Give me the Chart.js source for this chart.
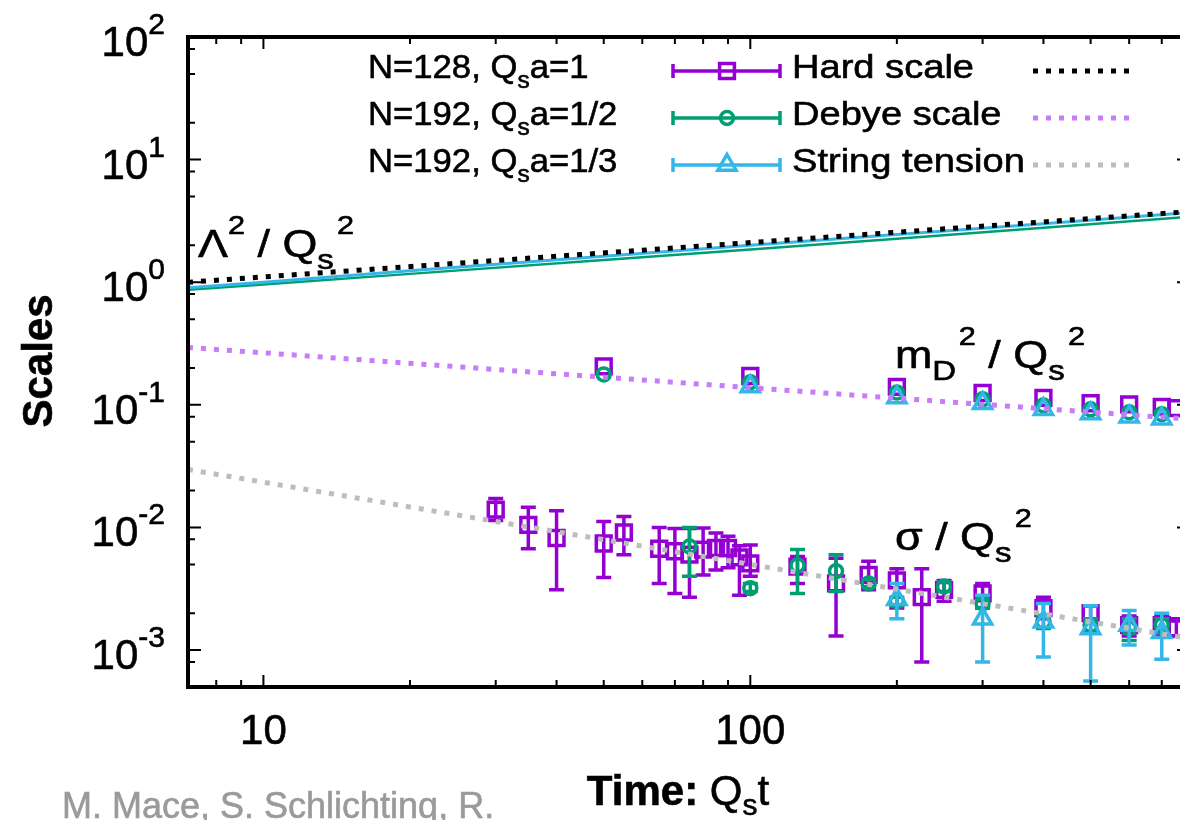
<!DOCTYPE html>
<html>
<head>
<meta charset="utf-8">
<title>Scales vs time</title>
<script src="https://cdn.jsdelivr.net/npm/chart.js@4.4.1/dist/chart.umd.min.js"></script>
<style>
  html, body { margin: 0; padding: 0; background: #fff; overflow: hidden; }
  #wrap { position: relative; width: 1180px; height: 820px; overflow: hidden; }
  canvas { position: absolute; left: 0; top: 0; }
</style>
</head>
<body>
<div id="wrap"><canvas id="scalesChart" width="1240" height="820"></canvas></div>
<script>
const FONT = '"Liberation Sans", Arial, Helvetica, sans-serif';
const PURPLE = '#9400d3', GREEN = '#009e73', CYAN = '#35b6e9';
const BLACK = '#000000', LAVENDER = '#c77cf8', GREY = '#bdbdbd';

// axis ticks
const xMajor = [10, 100];
const xTickLabels = ['10', '100'];
const xMinor = [8, 9, 20, 30, 40, 50, 60, 70, 80, 90, 200, 300, 400, 500, 600, 700];
const yMajor = [1e2, 1e1, 1e0, 1e-1, 1e-2, 1e-3];
const yExp = ['2', '1', '0', '-1', '-2', '-3'];
const yMinor = [80, 50, 20, 8, 5, 2, 0.8, 0.5, 0.2, 0.08, 0.05, 0.02, 0.008, 0.005, 0.002, 0.0008];

// legend names
const seriesNames = [['N=128, Q', 's', 'a=1'], ['N=192, Q', 's', 'a=1/2'], ['N=192, Q', 's', 'a=1/3']];
const modelNames = ['Hard scale', 'Debye scale', 'String tension'];

// fits (power laws, straight on log-log)
const fitT = [7, 800];
const hardFit = [1.0, 3.77];
const debyeFit = [0.294, 0.0764];
const stringFit = [0.0297, 0.00124];

// hard scale Lambda^2/Qs^2 (lines)
const hardT = [7, 10, 20, 50, 100, 200, 400, 800];
const hard192a = [0.87, 0.96, 1.17, 1.52, 1.85, 2.26, 2.78, 3.42];
const hard192b = [0.90, 1.00, 1.24, 1.63, 2.00, 2.45, 3.00, 3.70];

// Debye mass m_D^2/Qs^2
const debyeT128 = [50, 100, 200, 300, 400, 500, 600, 700, 750];
const debye128 = [0.206, 0.172, 0.140, 0.125, 0.114, 0.103, 0.101, 0.096, 0.094];
const debyeT192a = [50, 100, 200, 300, 400, 500, 600, 700];
const debye192a = [0.177, 0.153, 0.126, 0.111, 0.099, 0.092, 0.087, 0.084];
const debyeT192b = [100, 200, 300, 400, 500, 600, 700];
const debye192b = [0.141, 0.115, 0.103, 0.092, 0.085, 0.080, 0.077];

// string tension sigma/Qs^2 with error bars
const sigT128 = [30, 35, 40, 50, 55, 65, 70, 75, 80, 85, 90, 95, 100, 125, 150, 175, 200, 225, 250, 300, 400, 500, 600, 700, 750];
const sig128 = [0.0140, 0.0105, 0.0082, 0.0074, 0.0091, 0.0067, 0.0064, 0.0060, 0.0066, 0.0068, 0.0068, 0.0057, 0.0051, 0.0048, 0.0035, 0.0041, 0.0037, 0.0027, 0.0031, 0.0029, 0.0022, 0.0020, 0.0016, 0.0016, 0.0015];
const sig128Lo = [0.0114, 0.0067, 0.0031, 0.0039, 0.0060, 0.0035, 0.0029, 0.0027, 0.0041, 0.0045, 0.0047, 0.0028, 0.0040, 0.0035, 0.0013, 0.0031, 0.0022, 0.0008, 0.0025, 0.0022, 0.0018, 0.0017, 0.0013, 0.0013, 0.0013];
const sig128Hi = [0.0172, 0.0146, 0.0137, 0.0112, 0.0123, 0.0100, 0.0098, 0.0098, 0.0099, 0.0090, 0.0085, 0.0071, 0.0072, 0.0058, 0.0056, 0.0053, 0.0046, 0.0046, 0.0037, 0.0035, 0.0027, 0.0023, 0.0019, 0.0019, 0.0018];

const sigT192a = [75, 100, 125, 150, 175, 200, 250, 300, 400, 500, 600, 700];
const sig192a = [0.0070, 0.0032, 0.0049, 0.0044, 0.0035, 0.0025, 0.0033, 0.0024, 0.0017, 0.0016, 0.0015, 0.0016];
const sig192aLo = [0.0040, 0.0030, 0.0029, 0.0030, 0.0033, 0.0023, 0.0030, 0.0022, 0.0015, 0.0014, 0.0012, 0.0014];
const sig192aHi = [0.0100, 0.0035, 0.0066, 0.0060, 0.0038, 0.0027, 0.0036, 0.0026, 0.0019, 0.0018, 0.0018, 0.0018];

const sigT192b = [200, 300, 400, 500, 600, 700];
const sig192b = [0.0026, 0.0018, 0.0017, 0.0015, 0.0016, 0.0014];
const sig192bLo = [0.0018, 0.0008, 0.00088, 0.00056, 0.0011, 0.00084];
const sig192bHi = [0.0035, 0.0028, 0.0024, 0.0023, 0.0021, 0.0020];

function pts(t, v) { return t.map((x, i) => ({ x: x, y: v[i] })); }

function fitLine(t, v, color) {
  return { type: 'line', data: pts(t, v), borderColor: color, borderWidth: 5, borderDash: [5, 8],
           borderCapStyle: 'butt', pointRadius: 0, fill: false, order: 0 };
}
function plainLine(t, v, color, w, order) {
  return { type: 'line', data: pts(t, v), borderColor: color, borderWidth: w, pointRadius: 0, fill: false, order: order };
}
function markers(t, v, color, style, radius, order, lo, hi) {
  return { type: 'scatter', data: pts(t, v), borderColor: color, backgroundColor: 'rgba(0,0,0,0)',
           pointStyle: style, pointRadius: radius, pointBorderWidth: 3.5, showLine: false,
           order: order, errLo: lo, errHi: hi };
}

const datasets = [
  fitLine(fitT, hardFit, BLACK),
  fitLine(fitT, debyeFit, LAVENDER),
  fitLine(fitT, stringFit, GREY),
  plainLine(hardT, hard192b, CYAN, 3, 1),
  plainLine(hardT, hard192a, GREEN, 2.5, 2),
  markers(debyeT192b, debye192b, CYAN, 'triangle', 10.5, 3),
  markers(sigT192b, sig192b, CYAN, 'triangle', 10.5, 3, sig192bLo, sig192bHi),
  markers(debyeT192a, debye192a, GREEN, 'circle', 6.5, 4),
  markers(sigT192a, sig192a, GREEN, 'circle', 6.5, 4, sig192aLo, sig192aHi),
  markers(debyeT128, debye128, PURPLE, 'rect', 10.5, 5),
  markers(sigT128, sig128, PURPLE, 'rect', 10.5, 5, sig128Lo, sig128Hi)
];

// text with sub/superscripts: parts = [text, size, dy, weight]
function rich(ctx, parts, x, y, align, sx) {
  sx = sx || 1;
  const fontOf = p => (p[3] || 'normal') + ' ' + p[1] + 'px ' + FONT;
  let total = 0;
  const widths = parts.map(p => { ctx.font = fontOf(p); const w = ctx.measureText(p[0]).width * sx; total += w; return w; });
  let cx = align === 'right' ? x - total : align === 'center' ? x - total / 2 : x;
  parts.forEach((p, i) => {
    ctx.save();
    ctx.font = fontOf(p);
    ctx.textAlign = 'left';
    ctx.textBaseline = 'alphabetic';
    ctx.translate(cx, y + (p[2] || 0));
    ctx.scale(sx, 1);
    ctx.fillText(p[0], 0, 0);
    ctx.lineWidth = 0.6; ctx.strokeStyle = ctx.fillStyle;
    ctx.strokeText(p[0], 0, 0);
    ctx.restore();
    cx += widths[i];
  });
}

function marker(ctx, style, x, y, r) {
  ctx.beginPath();
  if (style === 'rect') { const s = r * Math.SQRT1_2; ctx.rect(x - s, y - s, 2 * s, 2 * s); }
  else if (style === 'circle') { ctx.arc(x, y, r, 0, Math.PI * 2); }
  else { ctx.moveTo(x, y - r); ctx.lineTo(x + r * 0.866, y + r / 2); ctx.lineTo(x - r * 0.866, y + r / 2); ctx.closePath(); }
  ctx.stroke();
}

const errorBars = {
  id: 'errorBars',
  beforeDatasetDraw(chart, args) {
    const ds = chart.data.datasets[args.index];
    if (!ds.errLo) return;
    const { ctx, chartArea: a, scales: { x, y } } = chart;
    ctx.save();
    ctx.beginPath(); ctx.rect(a.left, a.top, a.right - a.left, a.bottom - a.top); ctx.clip();
    ctx.strokeStyle = ds.borderColor; ctx.lineWidth = 3.5;
    ds.data.forEach((p, i) => {
      const px = x.getPixelForValue(p.x);
      const y1 = y.getPixelForValue(ds.errLo[i]), y2 = y.getPixelForValue(ds.errHi[i]);
      ctx.beginPath();
      ctx.moveTo(px, y1); ctx.lineTo(px, y2);
      ctx.moveTo(px - 7.5, y1); ctx.lineTo(px + 7.5, y1);
      ctx.moveTo(px - 7.5, y2); ctx.lineTo(px + 7.5, y2);
      ctx.stroke();
    });
    ctx.restore();
  }
};

const frameAndText = {
  id: 'frameAndText',
  afterDraw(chart) {
    const { ctx, chartArea: a, scales: { x, y } } = chart;
    ctx.save();
    ctx.fillStyle = '#000'; ctx.strokeStyle = '#000';

    // border
    ctx.lineWidth = 4;
    ctx.strokeRect(a.left, a.top, a.right - a.left, a.bottom - a.top);

    // inward ticks, mirrored
    ctx.lineWidth = 2;
    ctx.beginPath();
    const xt = (v, len) => { const p = x.getPixelForValue(v);
      ctx.moveTo(p, a.bottom); ctx.lineTo(p, a.bottom - len); ctx.moveTo(p, a.top); ctx.lineTo(p, a.top + len); };
    const yt = (v, len) => { const p = y.getPixelForValue(v);
      ctx.moveTo(a.left, p); ctx.lineTo(a.left + len, p); ctx.moveTo(a.right, p); ctx.lineTo(a.right - len, p); };
    xMajor.forEach(v => xt(v, 12)); xMinor.forEach(v => xt(v, 7));
    yMajor.forEach(v => yt(v, 13)); yMinor.forEach(v => yt(v, 7));
    ctx.stroke();

    // tick labels
    yMajor.forEach((v, i) => rich(ctx, [['10', 42], [yExp[i], 30, -22]], 165, y.getPixelForValue(v) + 19, 'right'));
    xMajor.forEach((v, i) => rich(ctx, [[xTickLabels[i], 42]], x.getPixelForValue(v), 744, 'center'));

    // axis titles
    rich(ctx, [['Time: ', 42, 0, 'bold'], ['Q', 42], ['s', 30, 10], ['t', 42]], 678, 805, 'center');
    ctx.save(); ctx.translate(52, 361); ctx.rotate(-Math.PI / 2);
    rich(ctx, [['Scales', 42, 0, 'bold']], 0, 0, 'center');
    ctx.restore();

    // curve annotations
    rich(ctx, [['\u039B', 38], ['2', 26, -23], [' / Q', 38], ['s', 28, 12], [' ', 10], ['2', 26, -23]], 198, 257, 'left', 1.18);
    rich(ctx, [['m', 38], ['D', 28, 12], [' ', 8], ['2', 26, -23], [' / Q', 38], ['s', 28, 12], [' ', 10], ['2', 26, -23]], 895, 368, 'left', 1.18);
    rich(ctx, [['\u03C3', 38], [' / Q', 38], ['s', 28, 12], [' ', 10], ['2', 26, -23]], 895, 550, 'left', 1.18);

    // legend
    const styles = [['rect', 10.5, PURPLE], ['circle', 6.5, GREEN], ['triangle', 10.5, CYAN]];
    const fits = [BLACK, LAVENDER, GREY];
    for (let i = 0; i < 3; i++) {
      const base = 78 + 47 * i, ly = base - 7;
      ctx.fillStyle = '#000';
      rich(ctx, [[seriesNames[i][0], 34], [seriesNames[i][1], 24, 10], [seriesNames[i][2], 34]], 368, base, 'left', 1.02);
      rich(ctx, [[modelNames[i], 34]], 792, base, 'left', 1.12);
      const [st, r, col] = styles[i];
      ctx.strokeStyle = col; ctx.lineWidth = 3.5; ctx.setLineDash([]);
      ctx.beginPath();
      ctx.moveTo(673, ly); ctx.lineTo(780, ly);
      ctx.moveTo(673, ly - 7); ctx.lineTo(673, ly + 7);
      ctx.moveTo(780, ly - 7); ctx.lineTo(780, ly + 7);
      ctx.stroke();
      marker(ctx, st, 727, ly, r);
      ctx.strokeStyle = fits[i]; ctx.lineWidth = 5; ctx.setLineDash([5, 8]); ctx.lineCap = 'butt';
      ctx.beginPath(); ctx.moveTo(1033, ly); ctx.lineTo(1132, ly); ctx.stroke();
      ctx.setLineDash([]);
    }

    // credit
    ctx.fillStyle = '#9a9a9a';
    rich(ctx, [['M. Mace, S. Schlichting, R.', 36]], 62, 818, 'left');
    ctx.restore();
  }
};

new Chart(document.getElementById('scalesChart'), {
  type: 'scatter',
  data: { datasets: datasets },
  options: {
    responsive: false,
    animation: false,
    layout: { padding: { left: 188, top: 37, right: 50, bottom: 133 } },
    scales: {
      x: { type: 'logarithmic', min: 7, max: 800, display: false },
      y: { type: 'logarithmic', min: 5e-4, max: 100, display: false }
    },
    plugins: { legend: { display: false }, tooltip: { enabled: false } }
  },
  plugins: [errorBars, frameAndText]
});
</script>
</body>
</html>
